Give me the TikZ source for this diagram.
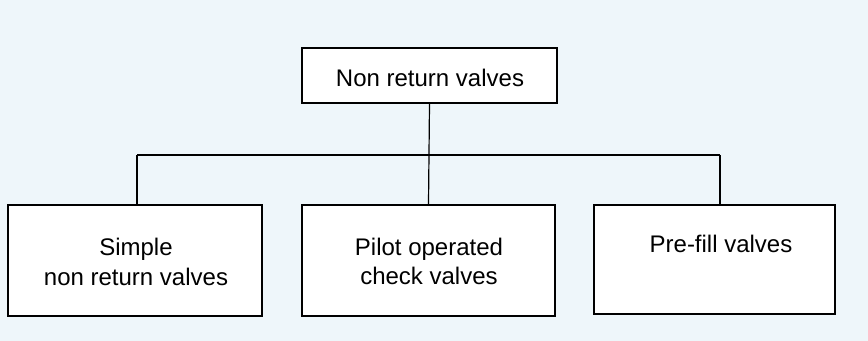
\documentclass[tikz,border=0pt]{standalone}
\usepackage{fontspec}
\setmainfont{Liberation Sans}
\definecolor{bgtint}{HTML}{EEF6FA}
\begin{document}
\begin{tikzpicture}[x=0.75pt,y=-0.75pt,
  valvebox/.style={draw=black,fill=white,line width=1.6pt,rectangle,inner sep=0pt},
  boxshadow/.style={fill=black,rectangle,inner sep=0pt},
  lbl/.style={anchor=base,inner sep=0pt,font=\fontsize{18pt}{21pt}\selectfont},
  conn/.style={draw=black,line width=0.9pt}]
\fill[bgtint] (0,0) rectangle (868,341);
\useasboundingbox (0,0) rectangle (868,341);
% shadows
\node[boxshadow,minimum width=191.25pt,minimum height=41.25pt] (tops) at (430.5,76.5) {};
\node[boxshadow,minimum width=190.5pt,minimum height=83.25pt] (b1s) at (136,261.5) {};
\node[boxshadow,minimum width=189.75pt,minimum height=83.25pt] (b2s) at (429.5,261.5) {};
\node[boxshadow,minimum width=180.75pt,minimum height=81.75pt] (b3s) at (715.5,260.5) {};
% boxes
\node[valvebox,minimum width=191.25pt,minimum height=41.25pt] (top) at (429.5,75.5) {};
\node[valvebox,minimum width=190.5pt,minimum height=83.25pt] (b1) at (135,260.5) {};
\node[valvebox,minimum width=189.75pt,minimum height=83.25pt] (b2) at (428.5,260.5) {};
\node[valvebox,minimum width=180.75pt,minimum height=81.75pt] (b3) at (714.5,259.5) {};
% labels
\node[lbl] (t0) at (430,86.5) {Non return valves};
\node[lbl] (t1a) at (136,256) {Simple};
\node[lbl] (t1b) at (136,285.5) {non return valves};
\node[lbl] (t2a) at (429,255.5) {Pilot operated};
\node[lbl] (t2b) at (429,285) {check valves};
\node[lbl] (t3) at (721,253) {Pre-fill valves};
% connectors
\coordinate (jl) at (137,155);
\coordinate (jr) at (720,155);
\draw[conn] (jl) -- (jr);
\draw[conn] (top.south) -- (b2.north);
\draw[conn] (jl) -- (jl |- b1.north);
\draw[conn] (jr) -- (jr |- b3.north);
\end{tikzpicture}
\end{document}
